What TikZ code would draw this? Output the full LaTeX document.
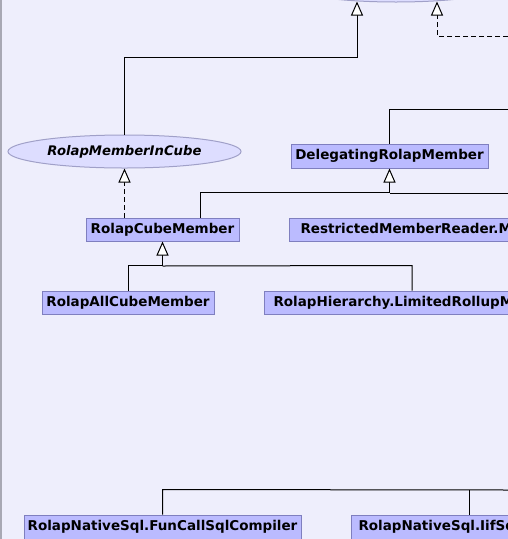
\documentclass[tikz,border=0pt]{standalone}
\usepackage{fontspec}
\setmainfont{DejaVu Sans}
\usetikzlibrary{arrows.meta,shapes.geometric,calc}
\definecolor{bg}{HTML}{EEEEFC}
\definecolor{boxfill}{HTML}{BBBBFF}
\definecolor{boxdraw}{HTML}{7F7FBF}
\definecolor{ellfill}{HTML}{DDDDFF}
\definecolor{elldraw}{HTML}{A0A0C8}
\definecolor{frame}{HTML}{A8A8B4}
\begin{document}
\begin{tikzpicture}[x=1pt,y=-1pt,
  cls/.style={draw=boxdraw, fill=boxfill, line width=1pt, inner sep=0pt,
    minimum height=23pt, font=\fontsize{13.5}{16}\selectfont\bfseries},
  iface/.style={ellipse, draw=elldraw, fill=ellfill, line width=1pt, inner sep=0pt,
    font=\fontsize{13.2}{16}\selectfont\bfseries\itshape},
  conn/.style={draw=black, line width=1pt},
  inh/.style={conn, -{Triangle[length=14pt,width=12pt,fill=white]}},
  realiz/.style={inh, dash pattern=on 5pt off 3pt}]
\useasboundingbox (0,0) rectangle (508,539);
\clip (0,0) rectangle (508,539);
\fill[bg] (0,0) rectangle (508,539);
\draw[frame, line width=1.5pt] (0.75,0) -- (0.75,539);

% nodes
\node[iface, minimum width=220pt, minimum height=34pt] (top) at (396,-15) {};
\node[iface, minimum width=233pt, minimum height=33pt] (mic) at (124.5,151.5) {RolapMemberInCube};
\node[cls, minimum width=197pt, minimum height=24pt] (deleg) at (389.5,156) {DelegatingRolapMember};
\node[cls, minimum width=153pt] (cube) at (162.5,229.5) {RolapCubeMember};
\node[cls, anchor=west, inner xsep=11pt] (restr) at (289,229.5) {RestrictedMemberReader.MultiCardinalityDefaultMember};
\node[cls, minimum width=172pt] (all) at (128,302.5) {RolapAllCubeMember};
\node[cls, anchor=west, inner xsep=9pt] (lim) at (264,302.5) {RolapHierarchy.LimitedRollupMember};
\node[cls, minimum width=277pt, minimum height=24pt] (fun) at (162.5,527) {RolapNativeSql.FunCallSqlCompiler};
\node[cls, anchor=west, inner xsep=7pt, minimum height=24pt] (iif) at (351,527) {RolapNativeSql.IifSqlCompiler};

% attachment points
\coordinate (t1) at (357,1.5);
\coordinate (t2) at (437,1.5);
\coordinate (e36) at (508,36);
\coordinate (e109) at (508,109);
\coordinate (e193) at (508,193);
\coordinate (e490) at (508,490);
\coordinate (cubetop) at ($(cube.north west)+(115,0)$);
\coordinate (limtop) at ($(lim.north west)+(148,0)$);
\coordinate (iiftop) at ($(iif.north west)+(118,0)$);

% connectors
\draw[inh] (mic.north) -- ++(0,-77) -| (t1);
\draw[realiz] (e36) -| (t2);
\draw[conn] (deleg.north) |- (e109);
\draw[inh] (cubetop) -- ++(0,-25) -| (deleg.south);
\draw[conn] (e193) -- (deleg.south |- e193);
\draw[realiz] (cube.north -| mic.south) -- (mic.south);
\draw[inh] (all.north) -- ++(0,-25) -| (cube.south);
\draw[conn] (limtop) -- ++(0,-25) -- (cube.south |- 0,266);
\draw[conn] (fun.north) -- ++(0,-25) -- (e490);
\draw[conn] (iiftop) -- ++(0,-25);
\end{tikzpicture}
\end{document}
